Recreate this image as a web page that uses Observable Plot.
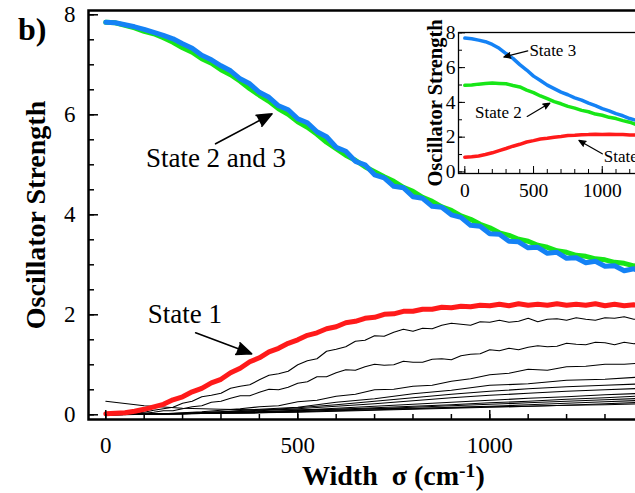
<!DOCTYPE html>
<html><head><meta charset="utf-8">
<script src="https://cdn.jsdelivr.net/npm/d3@7"></script>
<script src="https://cdn.jsdelivr.net/npm/@observablehq/plot@0.6"></script>
<style>
html,body{margin:0;padding:0;background:#fff;overflow:hidden;}
#wrap{position:relative;width:635px;height:493px;overflow:hidden;font-family:"Liberation Serif",serif;color:#000;}
#main{position:absolute;left:0;top:0;}
#inset{position:absolute;left:410px;top:10px;}
#panel{position:absolute;left:18px;top:13px;font-weight:bold;font-size:32px;line-height:32px;white-space:nowrap;}
#xtitle{position:absolute;left:302px;top:462px;font-weight:bold;font-size:28px;line-height:28px;white-space:nowrap;}
#xtitle sup{font-size:0.7em;line-height:0;vertical-align:0.42em;}
</style></head>
<body>
<div id="wrap">
  <div id="main"></div>
  <div id="inset"></div>
  <div id="panel">b)</div>
  <div id="xtitle">Width&nbsp;&nbsp;σ (cm<sup>-1</sup>)</div>
</div>
<script>
// ---------- main panel data ----------
const sigma25 = [0,25,50,75,100,125,150,175,200,225,250,275,300,325,350,375,400,425,450,475,500,525,550,575,600,625,650,675,700,725,750,775,800,825,850,875,900,925,950,975,1000,1025,1050,1075,1100,1125,1150,1175,1200,1225,1250,1275,1300,1325,1350,1375,1400];
const sigma50 = [0,50,100,150,200,250,300,350,400,450,500,550,600,650,700,750,800,850,900,950,1000,1050,1100,1150,1200,1250,1300,1350,1400];
const sigma100 = [0,100,200,300,400,500,600,700,800,900,1000,1100,1200,1300,1400];

const state3 = [7.85,7.84,7.80,7.76,7.71,7.65,7.59,7.52,7.42,7.33,7.19,7.10,6.98,6.88,6.72,6.62,6.45,6.35,6.18,6.10,5.92,5.84,5.66,5.56,5.35,5.27,5.07,5.00,4.80,4.74,4.57,4.54,4.36,4.33,4.17,4.15,4.00,3.95,3.79,3.77,3.62,3.61,3.47,3.46,3.34,3.35,3.23,3.25,3.13,3.14,3.04,3.07,2.97,2.98,2.88,2.92,2.85];
const state2 = [7.85,7.84,7.79,7.74,7.67,7.62,7.54,7.45,7.34,7.25,7.12,7.03,6.90,6.80,6.67,6.52,6.39,6.27,6.12,6.01,5.86,5.75,5.61,5.45,5.32,5.19,5.09,4.96,4.86,4.76,4.67,4.55,4.47,4.35,4.27,4.16,4.09,3.98,3.91,3.81,3.74,3.64,3.59,3.51,3.47,3.39,3.35,3.28,3.25,3.19,3.17,3.12,3.10,3.05,3.03,2.98,2.96];
const state1 = [0.02,0.03,0.04,0.07,0.11,0.16,0.21,0.30,0.36,0.46,0.53,0.64,0.71,0.84,0.93,1.06,1.14,1.26,1.33,1.43,1.50,1.59,1.64,1.72,1.76,1.84,1.87,1.93,1.95,2.01,2.02,2.07,2.07,2.11,2.11,2.15,2.14,2.17,2.16,2.19,2.18,2.21,2.18,2.22,2.19,2.21,2.19,2.22,2.19,2.21,2.19,2.22,2.18,2.21,2.18,2.20,2.18];

const otherA = [0,0.01,0.02,0.03,0.05,0.09,0.12,0.15,0.23,0.27,0.36,0.39,0.43,0.53,0.57,0.60,0.70,0.79,0.82,0.87,1.00,1.08,1.12,1.27,1.31,1.36,1.47,1.49,1.58,1.57,1.65,1.71,1.67,1.73,1.72,1.79,1.83,1.81,1.79,1.86,1.85,1.89,1.85,1.87,1.93,1.86,1.91,1.92,1.89,1.94,1.91,1.89,1.94,1.93,1.96,1.91,1.94];
const otherB = [0,0.005,0.01,0.02,0.03,0.05,0.08,0.08,0.12,0.16,0.18,0.25,0.27,0.33,0.38,0.38,0.45,0.51,0.50,0.55,0.63,0.66,0.76,0.76,0.84,0.90,0.89,0.96,1.01,0.99,1.00,1.07,1.05,1.05,1.11,1.12,1.10,1.18,1.21,1.22,1.30,1.28,1.33,1.30,1.35,1.38,1.36,1.37,1.43,1.41,1.40,1.45,1.44,1.40,1.45,1.42,1.44];
const otherC = [0,0,0.01,0.02,0.04,0.06,0.09,0.12,0.16,0.18,0.26,0.29,0.37,0.41,0.50,0.51,0.57,0.59,0.67,0.72,0.80,0.83,0.91,0.89,0.96,0.97,1.01,1.01,1.04];
const otherD = [0,0.01,0.03,0.06,0.11,0.15,0.25,0.32,0.42,0.49,0.59,0.62,0.69,0.71,0.76];
const otherE = [0,0.01,0.03,0.06,0.09,0.14,0.20,0.27,0.34,0.41,0.47,0.52,0.56,0.59,0.62];
const otherF = [0,0.01,0.02,0.05,0.08,0.12,0.17,0.22,0.28,0.34,0.39,0.43,0.47,0.50,0.53];
const otherG = [0,0.01,0.02,0.04,0.06,0.09,0.13,0.17,0.21,0.25,0.29,0.33,0.36,0.40,0.43];
const otherH = [0,0.01,0.02,0.04,0.06,0.08,0.11,0.14,0.17,0.20,0.24,0.27,0.31,0.34,0.38];
const otherI = [0,0.01,0.02,0.03,0.05,0.07,0.09,0.12,0.15,0.18,0.21,0.24,0.27,0.30,0.33];
const otherJ = [0,0.01,0.02,0.03,0.04,0.06,0.08,0.10,0.12,0.15,0.17,0.20,0.23,0.26,0.29];
const otherK = [0,0.01,0.02,0.03,0.04,0.05,0.07,0.09,0.11,0.13,0.15,0.17,0.19,0.22,0.25];
const otherL = [0.27,0.18,0.13,0.11,0.10,0.10,0.11,0.12,0.13,0.14,0.16,0.17,0.19,0.20,0.22];

const mainYMinor = [0,0.5,1,1.5,2,2.5,3,3.5,4,4.5,5,5.5,6,6.5,7,7.5,8];
const mainYMajor = [0,2,4,6,8];
const mainXMinor = [0,100,200,300,400,500,600,700,800,900,1000,1100,1200,1300];
const mainXMajor = [0,500,1000];

const mainNoteText = ["State 2 and 3", "State 1"];
const mainNoteX = [287, 206];
const mainNoteY = [5.13, 2.0];
const mainArrowX1 = [286, 234];
const mainArrowY1 = [5.42, 1.64];
const mainArrowX2 = [433, 380];
const mainArrowY2 = [6.02, 1.22];

// ---------- inset data ----------
const insetSigma = [0,50,100,150,200,250,300,350,400,450,500,550,600,650,700,750,800,850,900,950,1000,1050,1100,1150,1200,1250,1300,1350];
const insetState3 = [7.70,7.66,7.58,7.49,7.33,7.11,6.81,6.53,6.17,5.86,5.51,5.26,4.99,4.79,4.59,4.44,4.26,4.13,3.96,3.81,3.64,3.51,3.35,3.23,3.07,2.96,2.84,2.78];
const insetState2 = [4.98,5.00,5.05,5.08,5.11,5.09,5.07,4.97,4.89,4.71,4.56,4.37,4.21,4.04,3.92,3.77,3.67,3.54,3.46,3.33,3.26,3.14,3.07,2.95,2.86,2.72,2.66,2.58];
const insetState1 = [0.85,0.87,0.92,1.00,1.10,1.23,1.35,1.48,1.59,1.72,1.80,1.89,1.94,2.00,2.04,2.09,2.11,2.14,2.15,2.17,2.16,2.17,2.15,2.15,2.13,2.13,2.12,2.12];

const insetYMinor = [0,1,2,3,4,5,6,7,8];
const insetYMajor = [0,2,4,6,8];
const insetXMinor = [0,100,200,300,400,500,600,700,800,900,1000,1100,1200,1300];
const insetXMajor = [0,500,1000];

const insetNoteText = ["State 3", "State 2", "State 1"];
const insetNoteX = [640, 245, 1181];
const insetNoteY = [7.0, 3.42, 0.9];
const insetArrowX1 = [458, 454, 1000];
const insetArrowY1 = [6.96, 3.19, 1.04];
const insetArrowX2 = [284, 619, 830];
const insetArrowY2 = [6.61, 3.96, 1.81];

const RED = "#ff1a1a", GREEN = "#17e617", BLUE = "#1482f5";

// ---------- build tables ----------
const rowsOf = (xs, ys) => xs.map((x, i) => ({x, y: ys[i]}));
const others = [
  [sigma25, otherA], [sigma25, otherB], [sigma50, otherC],
  [sigma100, otherD], [sigma100, otherE], [sigma100, otherF], [sigma100, otherG],
  [sigma100, otherH], [sigma100, otherI], [sigma100, otherJ], [sigma100, otherK], [sigma100, otherL]
];
const blackRows = others.flatMap(([xs, ys], k) => xs.map((x, i) => ({id: k, x, y: ys[i]})));
const mainNotes = mainNoteText.map((t, i) => ({t, x: mainNoteX[i], y: mainNoteY[i]}));
const mainArrows = mainArrowX1.map((d, i) => ({x1: d, y1: mainArrowY1[i], x2: mainArrowX2[i], y2: mainArrowY2[i]}));
const insetNotes = insetNoteText.map((t, i) => ({t, x: insetNoteX[i], y: insetNoteY[i]}));
const insetArrows = insetArrowX1.map((d, i) => ({x1: d, y1: insetArrowY1[i], x2: insetArrowX2[i], y2: insetArrowY2[i]}));
const plain = (d) => String(d);

// inward ticks: draw outward ticks of length L, then shift them inward by L
const inY = (ticks, L, sw) => Plot.axisY({ticks, tickSize: L, dx: L, tickFormat: () => "", label: null, strokeWidth: sw});
const inX = (ticks, L, sw) => Plot.axisX({ticks, tickSize: L, dy: -L, tickFormat: () => "", label: null, strokeWidth: sw});

const mainPlot = Plot.plot({
  width: 640, height: 493,
  marginLeft: 88, marginRight: 0, marginTop: 10, marginBottom: 74,
  style: {fontFamily: "Liberation Serif", background: "transparent", color: "black", maxWidth: "none", overflow: "visible"},
  x: {domain: [-45, 1392.5]},
  y: {domain: [-0.094, 8.086]},
  marks: [
    Plot.line(blackRows, {x: "x", y: "y", z: "id", stroke: "black", strokeWidth: 1.1, clip: true}),
    Plot.line(rowsOf(sigma25, state1), {x: "x", y: "y", stroke: RED, strokeWidth: 5, clip: true}),
    Plot.line(rowsOf(sigma25, state2), {x: "x", y: "y", stroke: GREEN, strokeWidth: 5, clip: true}),
    Plot.line(rowsOf(sigma25, state3), {x: "x", y: "y", stroke: BLUE, strokeWidth: 5, clip: true}),
    Plot.frame({stroke: "black", strokeWidth: 2.5}),
    inY(mainYMinor, 6, 1.5),
    inY(mainYMajor, 10, 1.5),
    Plot.axisY({ticks: mainYMajor, tickSize: 0, tickPadding: 13, fontSize: 23, label: null, tickFormat: plain}),
    inX(mainXMinor, 5, 1.5),
    inX(mainXMajor, 9, 1.5),
    Plot.axisX({ticks: mainXMajor, tickSize: 0, tickPadding: 17, fontSize: 23, label: null, tickFormat: plain}),
    Plot.text(["Oscillator Strength"], {frameAnchor: "left", textAnchor: "middle", rotate: -90, dx: -52, fontSize: 28, fontWeight: "bold"}),
    Plot.arrow(mainArrows, {x1: "x1", y1: "y1", x2: "x2", y2: "y2", stroke: "black", fill: "black", strokeWidth: 1.6, headLength: 15, headAngle: 45}),
    Plot.text(mainNotes, {x: "x", y: "y", text: "t", fontSize: 27, textAnchor: "middle"})
  ]
});
document.getElementById("main").append(mainPlot);

const insetPlot = Plot.plot({
  width: 240, height: 193,
  marginLeft: 48, marginRight: 0, marginTop: 22, marginBottom: 30,
  style: {fontFamily: "Liberation Serif", background: "transparent", color: "black", maxWidth: "none", overflow: "visible"},
  x: {domain: [-46, 1351]},
  y: {domain: [-0.09, 8.02]},
  marks: [
    Plot.line(rowsOf(insetSigma, insetState1), {x: "x", y: "y", stroke: RED, strokeWidth: 3.5, clip: true}),
    Plot.line(rowsOf(insetSigma, insetState2), {x: "x", y: "y", stroke: GREEN, strokeWidth: 3.5, clip: true}),
    Plot.line(rowsOf(insetSigma, insetState3), {x: "x", y: "y", stroke: BLUE, strokeWidth: 3.5, clip: true}),
    Plot.frame({stroke: "black", strokeWidth: 1.3}),
    inY(insetYMinor, 4, 1),
    inY(insetYMajor, 7, 1),
    Plot.axisY({ticks: insetYMajor, tickSize: 0, tickPadding: 3, fontSize: 19.5, label: null, tickFormat: plain}),
    inX(insetXMinor, 4, 1),
    inX(insetXMajor, 7, 1),
    Plot.axisX({ticks: insetXMajor, tickSize: 0, tickPadding: 10, fontSize: 19.5, label: null, tickFormat: plain}),
    Plot.text(["Oscillator Strength"], {frameAnchor: "left", textAnchor: "middle", rotate: -90, dx: -23, fontSize: 20.5, fontWeight: "bold"}),
    Plot.arrow(insetArrows, {x1: "x1", y1: "y1", x2: "x2", y2: "y2", stroke: "black", fill: "black", strokeWidth: 1.2, headLength: 9, headAngle: 45}),
    Plot.text(insetNotes, {x: "x", y: "y", text: "t", fontSize: 17, textAnchor: "middle"})
  ]
});
document.getElementById("inset").append(insetPlot);
</script>
</body></html>
